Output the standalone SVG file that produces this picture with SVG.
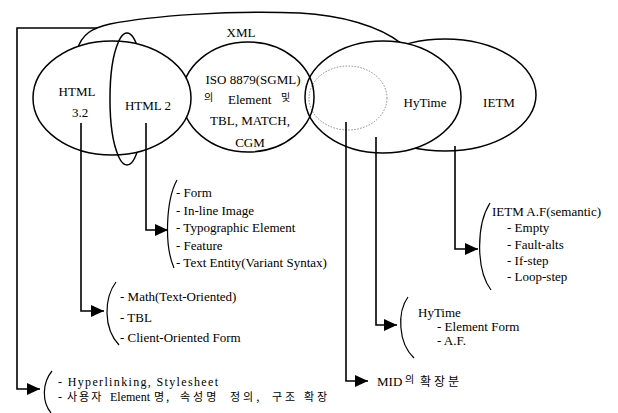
<svg xmlns="http://www.w3.org/2000/svg" width="618" height="413" viewBox="0 0 618 413">
<style>
.sh{fill:#fff;stroke:#000;stroke-width:1.5}
.open{fill:none;stroke:#000;stroke-width:1.5}
.t{font-family:"Liberation Serif","Times New Roman","Noto Sans CJK KR",serif;font-size:13px;fill:#000}
.s{font-size:12px}
.k{font-family:"Noto Sans CJK KR",sans-serif;fill:#000}
.c{fill:none;stroke:#000;stroke-width:1.6}
.br{fill:none;stroke:#000;stroke-width:1.2}
</style>
<defs>
<marker id="ah" markerUnits="userSpaceOnUse" markerWidth="14" markerHeight="12" refX="13" refY="6" orient="auto">
<path d="M0,0 L13,6 L0,12 z" fill="#000"/>
</marker>
</defs>

<g id="xml">
<path class="open" d="M77,50 C82,34 92,28 110,24 C150,16 230,10 300,13 C340,15 380,26 402,44"/>
<text class="t" x="241" y="37" text-anchor="middle">XML</text>
</g>

<g id="ietm">
<ellipse class="sh" cx="445" cy="95" rx="91" ry="56"/>
<text class="t" x="499" y="107" text-anchor="middle">IETM</text>
</g>

<g id="hytime">
<ellipse class="sh" cx="383" cy="97" rx="78" ry="56"/>
<text class="t" x="425" y="107" text-anchor="middle">HyTime</text>
</g>

<g id="mid">
<ellipse cx="348" cy="98" rx="39" ry="32" fill="none" stroke="#888" stroke-width="1" stroke-dasharray="1.5 1.5"/>
</g>

<g id="iso">
<ellipse class="open" cx="248" cy="97" rx="66" ry="55"/>
<text class="t" x="253" y="84" text-anchor="middle">ISO 8879(SGML)</text>
<text class="t" y="104"><tspan class="k" x="204" y="101" font-size="10">의</tspan><tspan x="228" y="104">Element</tspan><tspan class="k" x="281" y="101" font-size="10">및</tspan></text>
<text class="t" x="250" y="125" text-anchor="middle">TBL, MATCH,</text>
<text class="t" x="250" y="147" text-anchor="middle">CGM</text>
</g>

<g id="html2">
<ellipse class="sh" cx="127" cy="99" rx="17" ry="66"/>
</g>

<g id="html32">
<ellipse class="sh" cx="112" cy="98" rx="79" ry="57"/>
<path class="open" d="M118.4,42 A17,66 0 0,0 118.4,156"/>
<text class="t" x="77" y="96" text-anchor="middle">HTML</text>
<text class="t" x="80" y="117" text-anchor="middle">3.2</text>
<text class="t" x="148" y="110" text-anchor="middle">HTML 2</text>
</g>

<g id="connectors">
<path class="c" d="M97,28 H17 V389 H40" marker-end="url(#ah)"/>
<path class="c" d="M81,123 V311 H104" marker-end="url(#ah)"/>
<path class="c" d="M146,123 V230 H168" marker-end="url(#ah)"/>
<path class="c" d="M346,122 V381 H368" marker-end="url(#ah)"/>
<path class="c" d="M376,137 V325 H397" marker-end="url(#ah)"/>
<path class="c" d="M455,146 V249 H478" marker-end="url(#ah)"/>
</g>

<g id="list-html2">
<path class="br" d="M177,180 C166,200 164,245 174,268"/>
<text class="t" x="176" y="197">- Form</text>
<text class="t" x="176" y="215">- In-line Image</text>
<text class="t" x="176" y="232">- Typographic Element</text>
<text class="t" x="176" y="250">- Feature</text>
<text class="t" x="176" y="267">- Text Entity(Variant Syntax)</text>
</g>

<g id="list-html32">
<path class="br" d="M116,282 C104,298 103,328 119,345"/>
<text class="t" x="120" y="301">- Math(Text-Oriented)</text>
<text class="t" x="120" y="322">- TBL</text>
<text class="t" x="120" y="342">- Client-Oriented Form</text>
</g>

<g id="list-xml">
<path class="br" d="M52,371 C42,383 42,402 51,413"/>
<text class="t s" x="58" y="386" textLength="160" lengthAdjust="spacing">- Hyperlinking, Stylesheet</text>
<text class="t s" y="401"><tspan x="58">-</tspan><tspan class="k" x="67" font-size="11" letter-spacing="2">사용자</tspan><tspan x="110">Element</tspan><tspan class="k" x="154" font-size="11" letter-spacing="2">명,</tspan><tspan class="k" x="180" font-size="11" letter-spacing="3">속성명</tspan><tspan class="k" x="230" font-size="11" letter-spacing="3">정의,</tspan><tspan class="k" x="272" font-size="11" letter-spacing="3">구조</tspan><tspan class="k" x="304" font-size="11" letter-spacing="3">확장</tspan></text>
</g>

<g id="list-ietm">
<path class="br" d="M490,203 C476,225 476,270 491,290"/>
<text class="t" x="492" y="216">IETM A.F(semantic)</text>
<text class="t" x="507" y="232">- Empty</text>
<text class="t" x="507" y="249">- Fault-alts</text>
<text class="t" x="507" y="265">- If-step</text>
<text class="t" x="507" y="281">- Loop-step</text>
</g>

<g id="list-hytime">
<path class="br" d="M408,297 C397,312 398,343 414,358"/>
<text class="t" x="418" y="317">HyTime</text>
<text class="t" x="437" y="331">- Element Form</text>
<text class="t" x="437" y="345">- A.F.</text>
</g>

<g id="list-mid">
<text class="t" y="386"><tspan x="377">MID</tspan><tspan class="k" x="405" y="383" font-size="10">의</tspan><tspan class="k" x="420" y="386" font-size="12" letter-spacing="3">확장분</tspan></text>
</g>
</svg>
